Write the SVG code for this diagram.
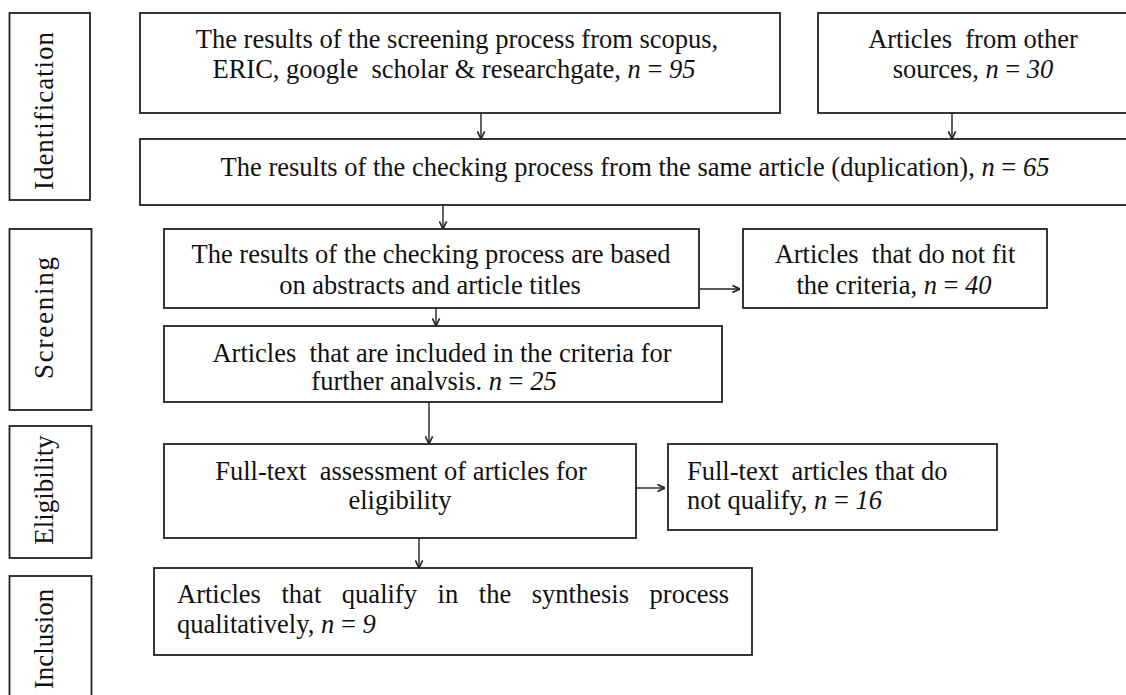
<svg xmlns="http://www.w3.org/2000/svg" width="1126" height="695" viewBox="0 0 1126 695">
<style>
.box{fill:#fff;stroke:#222;stroke-width:1.8}
text{font-family:"Liberation Serif","Times New Roman","DejaVu Serif",serif}
.t{font-size:26.5px;fill:#111;white-space:pre}
.c{text-anchor:middle}
.side{font-size:27px;fill:#111;text-anchor:middle}
.i{font-style:italic}
.con{fill:none;stroke:#222;stroke-width:1.4}
</style>
<defs>
<marker id="ah" viewBox="0 0 10 10" refX="9.5" refY="5" markerWidth="9" markerHeight="9" orient="auto" markerUnits="userSpaceOnUse">
<path d="M1,1 L9.5,5 L1,9" fill="none" stroke="#222" stroke-width="1.8"/>
</marker>
</defs>
<rect width="1126" height="695" fill="#fff"/>

<g id="stage-identification">
<rect class="box" x="9.5" y="13" width="80.5" height="187"/>
<text class="side" font-family="Liberation Serif, serif" transform="translate(53,111) rotate(-90)" textLength="158" lengthAdjust="spacing">Identification</text>
</g>
<g id="stage-screening">
<rect class="box" x="9.5" y="229" width="82" height="181"/>
<text class="side" font-family="Liberation Serif, serif" transform="translate(53,318) rotate(-90)" textLength="122" lengthAdjust="spacing">Screening</text>
</g>
<g id="stage-eligibility">
<rect class="box" x="9.5" y="426" width="82" height="132"/>
<text class="side" font-family="Liberation Serif, serif" transform="translate(53,490) rotate(-90)">Eligibility</text>
</g>
<g id="stage-inclusion">
<rect class="box" x="9.5" y="576" width="82" height="130"/>
<text class="side" font-family="Liberation Serif, serif" transform="translate(53,639) rotate(-90)">Inclusion</text>
</g>

<g id="n-search">
<rect class="box" x="140" y="13" width="640" height="100"/>
<text class="t c" x="457" y="48">The results of the screening process from scopus,</text>
<text class="t c" x="454" y="78">ERIC, google  scholar &amp; researchgate, <tspan class="i">n</tspan> = <tspan class="i">95</tspan></text>
</g>
<g id="n-other">
<rect class="box" x="818" y="13" width="320" height="100"/>
<text class="t c" x="973" y="48">Articles  from other</text>
<text class="t c" x="973" y="78">sources, <tspan class="i">n</tspan> = <tspan class="i">30</tspan></text>
</g>
<g id="n-dup">
<rect class="box" x="140" y="139" width="998" height="66"/>
<text class="t c" x="635" y="176">The results of the checking process from the same article (duplication), <tspan class="i">n</tspan> = <tspan class="i">65</tspan></text>
</g>
<g id="n-abstract">
<rect class="box" x="164" y="229" width="535" height="79"/>
<text class="t c" x="431" y="263">The results of the checking process are based</text>
<text class="t c" x="430" y="294">on abstracts and article titles</text>
</g>
<g id="n-nofit">
<rect class="box" x="743" y="229" width="304" height="79"/>
<text class="t c" x="895" y="263">Articles  that do not fit</text>
<text class="t c" x="894" y="294">the criteria, <tspan class="i">n</tspan> = <tspan class="i">40</tspan></text>
</g>
<g id="n-included">
<rect class="box" x="164" y="326" width="558" height="76"/>
<text class="t c" x="442" y="362">Articles  that are included in the criteria for</text>
<text class="t c" x="434" y="390">further analvsis. <tspan class="i">n</tspan> = <tspan class="i">25</tspan></text>
</g>
<g id="n-fulltext">
<rect class="box" x="164" y="444" width="472" height="94"/>
<text class="t c" x="401" y="480">Full-text  assessment of articles for</text>
<text class="t c" x="400" y="509">eligibility</text>
</g>
<g id="n-notqualify">
<rect class="box" x="668" y="444" width="329" height="86"/>
<text class="t" x="687" y="480">Full-text  articles that do</text>
<text class="t" x="687" y="509">not qualify, <tspan class="i">n</tspan> = <tspan class="i">16</tspan></text>
</g>
<g id="n-synthesis">
<rect class="box" x="154" y="568" width="598" height="87"/>
<text class="t" x="177" y="603" word-spacing="14">Articles that qualify in the synthesis process</text>
<text class="t" x="177" y="633">qualitatively, <tspan class="i">n</tspan> = <tspan class="i">9</tspan></text>
</g>

<g id="connectors">
<line class="con" x1="481" y1="113" x2="481" y2="139" marker-end="url(#ah)"/>
<line class="con" x1="952" y1="113" x2="952" y2="139" marker-end="url(#ah)"/>
<line class="con" x1="443" y1="205" x2="443" y2="229" marker-end="url(#ah)"/>
<line class="con" x1="699" y1="289" x2="740" y2="289" marker-end="url(#ah)"/>
<line class="con" x1="436" y1="308" x2="436" y2="326" marker-end="url(#ah)"/>
<line class="con" x1="429" y1="402" x2="429" y2="444" marker-end="url(#ah)"/>
<line class="con" x1="636" y1="488" x2="665" y2="488" marker-end="url(#ah)"/>
<line class="con" x1="419" y1="538" x2="419" y2="568" marker-end="url(#ah)"/>
</g>
</svg>
